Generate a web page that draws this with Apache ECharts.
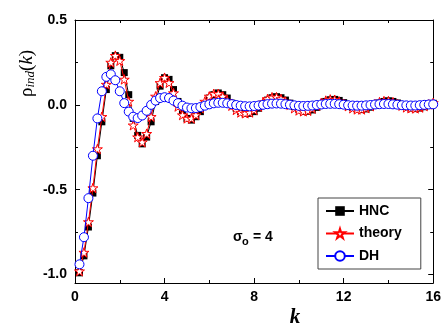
<!DOCTYPE html>
<html><head><meta charset="utf-8">
<script src="https://cdn.jsdelivr.net/npm/echarts@6/dist/echarts.min.js"></script>
<style>html,body{margin:0;padding:0;background:#fff}#c{width:444px;height:326px}</style>
</head><body><div id="c"></div>
<script>
// k grid (one point every 0.2)
const kValues = [0.2,0.4,0.6,0.8,1.0,1.2,1.4,1.6,1.8,2.0,2.2,2.4,2.6,2.8,3.0,3.2,3.4,3.6,3.8,4.0,
 4.2,4.4,4.6,4.8,5.0,5.2,5.4,5.6,5.8,6.0,6.2,6.4,6.6,6.8,7.0,7.2,7.4,7.6,7.8,8.0,
 8.2,8.4,8.6,8.8,9.0,9.2,9.4,9.6,9.8,10.0,10.2,10.4,10.6,10.8,11.0,11.2,11.4,11.6,11.8,12.0,
 12.2,12.4,12.6,12.8,13.0,13.2,13.4,13.6,13.8,14.0,14.2,14.4,14.6,14.8,15.0,15.2,15.4,15.6,15.8,16.0];
const hncValues = [-0.99,-0.89,-0.72,-0.52,-0.30,-0.10,0.09,0.23,0.29,0.28,0.19,0.06,-0.08,-0.18,-0.23,-0.19,-0.10,0.02,0.11,0.16,
 0.15,0.09,0.02,-0.04,-0.08,-0.09,-0.07,-0.04,0.0,0.04,0.06,0.07,0.06,0.04,0.01,-0.02,-0.04,-0.05,-0.05,-0.04,
 -0.02,0.005,0.028,0.042,0.048,0.042,0.028,0.01,-0.01,-0.028,-0.038,-0.038,-0.03,-0.015,0.003,0.02,0.03,0.032,0.026,0.013,
 -0.002,-0.015,-0.025,-0.028,-0.024,-0.014,-0.001,0.011,0.02,0.024,0.02,0.011,0.0,-0.011,-0.019,-0.022,-0.019,-0.011,-0.001,0.009];
const theoryValues = [-0.98,-0.87,-0.69,-0.49,-0.26,-0.07,0.12,0.25,0.29,0.26,0.15,0.02,-0.12,-0.19,-0.22,-0.17,-0.07,0.05,0.13,0.16,
 0.13,0.07,-0.01,-0.06,-0.08,-0.08,-0.06,-0.02,0.02,0.05,0.065,0.065,0.05,0.025,-0.005,-0.03,-0.045,-0.05,-0.045,-0.03,
 -0.01,0.015,0.035,0.045,0.045,0.035,0.02,0.0,-0.02,-0.033,-0.038,-0.035,-0.022,-0.005,0.012,0.025,0.032,0.03,0.02,0.006,
 -0.008,-0.02,-0.027,-0.027,-0.02,-0.008,0.005,0.016,0.022,0.022,0.016,0.006,-0.005,-0.015,-0.02,-0.021,-0.016,-0.007,0.003,0.012];
const dhValues = [-0.94,-0.78,-0.55,-0.30,-0.08,0.08,0.165,0.18,0.145,0.08,0.01,-0.04,-0.07,-0.078,-0.063,-0.035,0.0,0.025,0.04,0.045,
 0.04,0.025,0.01,-0.005,-0.016,-0.02,-0.019,-0.013,-0.005,0.003,0.009,0.012,0.012,0.009,0.004,-0.001,-0.005,-0.008,-0.009,-0.007,
 -0.004,0.0,0.004,0.007,0.008,0.007,0.004,0.001,-0.003,-0.006,-0.007,-0.006,-0.004,-0.001,0.002,0.005,0.006,0.006,0.004,0.001,
 -0.002,-0.004,-0.005,-0.005,-0.003,-0.001,0.002,0.004,0.005,0.005,0.003,0.001,-0.002,-0.003,-0.004,-0.004,-0.002,0.0,0.002,0.003];
const seriesNames = ['HNC','theory','DH'];
const yMajorTicks = [-1.0,-0.5,0.0,0.5];
const yMinorTicks = [-0.75,-0.25,0.25];

const pairs = vals => kValues.map((k,i)=>[k, vals[i]]);
const STAR = 'path://M100,0L122.5,69.1L195.1,69.1L136.3,111.8L158.8,180.9L100,138.2L41.2,180.9L63.7,111.8L4.9,69.1L77.5,69.1Z';
const SANS = 'Arial, "Liberation Sans", sans-serif';
const SERIF = '"Liberation Serif", "Times New Roman", serif';
const labelFont = {color:'#000', fontWeight:'bold', fontSize:14, fontFamily:SANS};
const axLine = {show:true, onZero:false, lineStyle:{color:'#000', width:1}};
const noLine = {show:false, onZero:false};

const chart = echarts.init(document.getElementById('c'), null, {renderer:'canvas'});
chart.setOption({
  animation:false,
  backgroundColor:'#fff',
  grid:{left:75, right:9, top:20, bottom:43},
  xAxis:[
    {type:'value', position:'bottom', min:0, max:16, interval:4, axisLine:axLine,
     axisTick:{inside:true, length:5, lineStyle:{color:'#000'}},
     minorTick:{show:true, splitNumber:2, length:3, lineStyle:{color:'#000'}},
     splitLine:{show:false}, minorSplitLine:{show:false},
     axisLabel:Object.assign({margin:7}, labelFont)},
    {type:'value', position:'top', min:0, max:16, interval:4, axisLine:axLine,
     axisTick:{inside:true, length:5, lineStyle:{color:'#000'}},
     minorTick:{show:true, splitNumber:2, length:3, lineStyle:{color:'#000'}},
     splitLine:{show:false}, axisLabel:{show:false}}
  ],
  yAxis:[
    {type:'value', position:'left', min:-1.05, max:0.5, axisLine:axLine,
     axisTick:{inside:true, length:5, customValues:yMajorTicks, lineStyle:{color:'#000'}},
     splitLine:{show:false},
     axisLabel:Object.assign({margin:8, customValues:yMajorTicks, formatter:v=>Number(v).toFixed(1)}, labelFont)},
    {type:'value', position:'right', min:-1.05, max:0.5, axisLine:axLine,
     axisTick:{inside:true, length:5, customValues:yMajorTicks, lineStyle:{color:'#000'}},
     splitLine:{show:false}, axisLabel:{show:false}},
    {type:'value', position:'left', min:-1.05, max:0.5, axisLine:noLine,
     axisTick:{inside:true, length:3, customValues:yMinorTicks, lineStyle:{color:'#000'}},
     splitLine:{show:false}, axisLabel:{show:false}},
    {type:'value', position:'right', min:-1.05, max:0.5, axisLine:noLine,
     axisTick:{inside:true, length:3, customValues:yMinorTicks, lineStyle:{color:'#000'}},
     splitLine:{show:false}, axisLabel:{show:false}}
  ],
  legend:{
    orient:'vertical', left:318, top:198, data:seriesNames,
    itemWidth:28, itemHeight:12, itemGap:8.5, padding:[6,19,6,7],
    borderColor:'#444', borderWidth:1, backgroundColor:'#fff',
    textStyle:{color:'#000', fontWeight:'bold', fontSize:14, fontFamily:SANS}
  },
  series:[
    {name:seriesNames[0], type:'line', data:pairs(hncValues), symbol:'rect', symbolSize:7,
     itemStyle:{color:'#000'}, lineStyle:{color:'#000', width:1}, z:2},
    {name:seriesNames[1], type:'line', data:pairs(theoryValues), symbol:STAR, symbolSize:10, symbolKeepAspect:true,
     itemStyle:{color:'#fff', borderColor:'#ff0000', borderWidth:1}, lineStyle:{color:'#ff0000', width:1}, z:3},
    {name:seriesNames[2], type:'line', data:pairs(dhValues), symbol:'circle', symbolSize:9,
     itemStyle:{color:'#fff', borderColor:'#0000ff', borderWidth:1}, lineStyle:{color:'#0000ff', width:1}, z:4}
  ],
  graphic:[
    {type:'text', x:17, y:97, rotation:Math.PI/2,
     style:{text:'ρ{s|ind}({i|k})', font:'19px ' + SERIF, fill:'#000',
       rich:{s:{fontSize:13, fontStyle:'italic', fontFamily:SERIF, padding:[7,0,0,0]},
             i:{fontSize:19, fontStyle:'italic', fontFamily:SERIF}}}},
    {type:'text', x:295, y:318,
     style:{text:'k', align:'center', verticalAlign:'middle',
       font:'italic bold 21px ' + SERIF, fill:'#000'}},
    {type:'text', x:233, y:237,
     style:{text:'σ', align:'left', verticalAlign:'middle', font:'bold 14px ' + SANS, fill:'#000'}},
    {type:'text', x:242, y:242,
     style:{text:'o', align:'left', verticalAlign:'middle', font:'bold 11px ' + SANS, fill:'#000'}},
    {type:'text', x:249, y:237,
     style:{text:' = 4', align:'left', verticalAlign:'middle', font:'bold 14px ' + SANS, fill:'#000'}}
  ]
});
</script></body></html>
